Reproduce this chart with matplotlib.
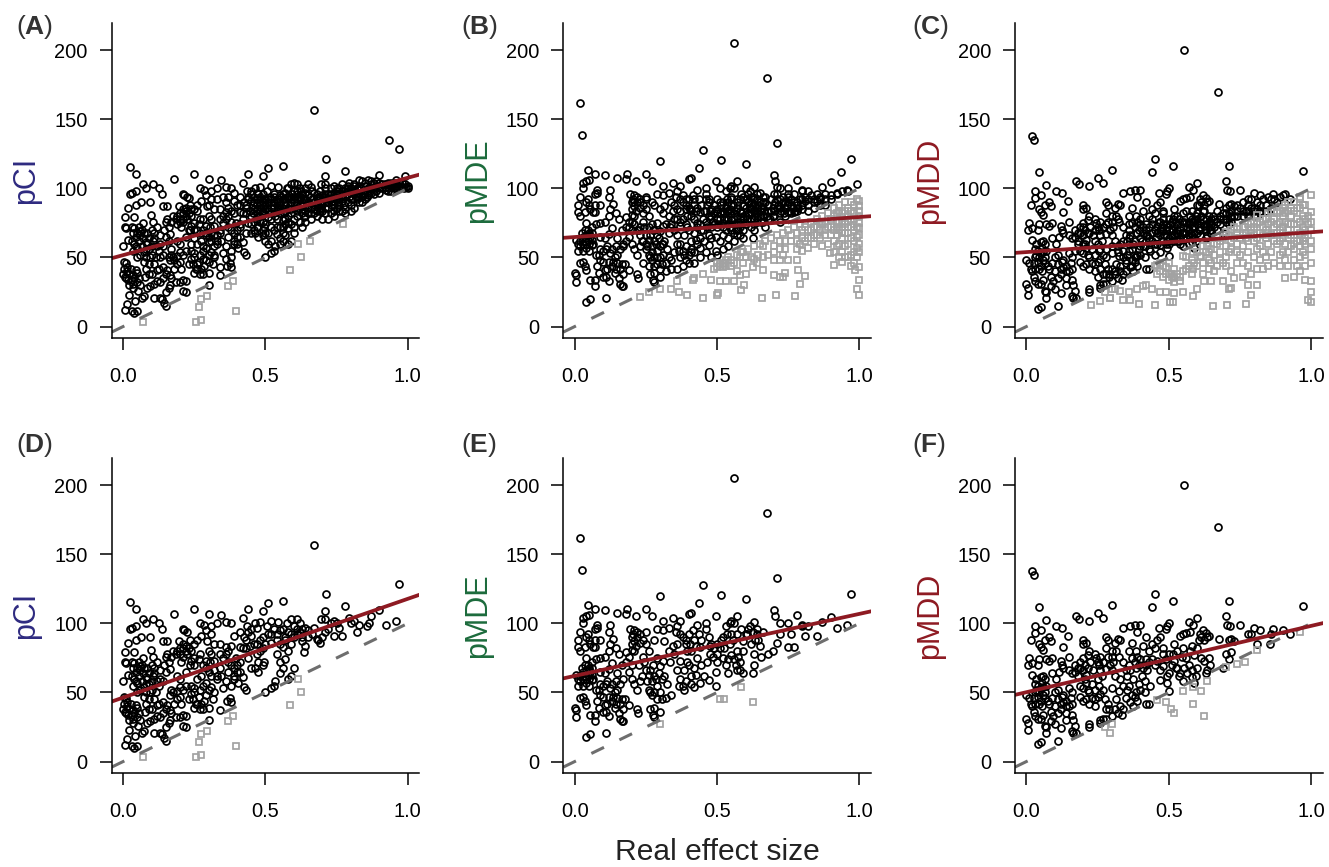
import matplotlib
matplotlib.use('Agg')
import matplotlib.pyplot as plt

plt.rcParams['font.family'] = 'Liberation Sans'
plt.rcParams['mathtext.fontset'] = 'custom'
plt.rcParams['mathtext.rm'] = 'Liberation Sans'
plt.rcParams['mathtext.bf'] = 'Liberation Sans:bold'

# points kept in the lower panels (D, E, F) as (effect, percent)
pci_black = [
 (.005,12),(.015,16),(.03,11),(.04,10),(.05,11),(.042,18.5),(.022,23),(.052,26),(.065,21),(.072,22),
 (0,38),(.003,42),(.006,36),(.01,46),(.012,40),(.018,34),(.022,38),(.028,42),(.032,34),(.036,37),
 (.04,35),(.044,41),(.05,39),(.056,35),(.078,36),(.004,47),(.015,43),(.035,31),(0,58),(.017,63),
 (.006,72),(.01,71),(.006,79),(.037,79),(.019,86),(.045,88),(.063,90),(.093,90),(.025,96),(.03,97),
 (.045,98),(.07,103),(.025,115.5),(.045,110.5),(.082,100),(.035,55),(.04,60),(.045,65),(.05,68),(.04,71),
 (.05,57),(.055,62),(.06,69),(.07,75),(.065,58),(.07,64),(.072,54),(.06,52),(.08,61),(.085,68),
 (.09,56),(.095,50),(.09,45),(.105,103.5),(.125,100),(.135,96),(.097,81),(.105,76),(.12,72),(.14,87),
 (.155,87),(.15,76),(.155,78),(.175,80),(.18,106.5),(.11,64),(.13,66),(.15,65),(.165,67),(.12,58),
 (.10,52),(.125,55),(.11,45),(.12,41),(.125,42),(.14,43),(.155,41),(.165,37),(.17,35),(.185,32),
 (.2,32),(.12,33),(.11,31),(.095,29),(.085,28),(.15,25),(.16,28),(.165,30),(.11,21),(.13,21),
 (.135,20),(.15,15),(.145,17),(.21,34),(.22,33),(.22,25),(.205,42),(.19,51),(.2,47),(.21,52),
 (.19,62),(.205,72),(.2,60),(.22,65),(.21,76),(.2,82),(.21,85),(.195,87),(.22,80),(.225,78),
 (.21,96),(.215,95),(.225,94),(.235,88),(.25,110.5),(.27,100),(.285,99),(.30,107),(.31,98),(.33,100),
 (.345,106),(.36,101),(.38,100),(.29,95),(.275,91),(.31,92),(.295,87),(.32,85),(.34,85),(.36,83),
 (.24,73),(.25,70),(.265,74),(.29,73),(.305,72),(.32,73),(.3,80),(.31,78),(.34,78),(.37,80),
 (.26,60),(.275,62),(.29,57),(.31,54),(.33,60),(.345,62),(.36,58),(.37,65),(.39,68),(.4,70),
 (.24,49),(.245,45),(.255,42),(.265,47),(.275,42),(.285,44),(.25,39),(.28,38),(.3,39),(.315,45),
 (.34,37),(.365,44),(.375,46),(.38,43),(.3,30),(.21,26),(.25,53),(.27,52),(.35,53),(.38,55),
 (.39,60),(.405,57),(.42,61),(.425,54),(.43,52),(.41,65),(.395,75),(.38,84),(.39,91),(.41,94),
 (.425,90),(.44,110.5),(.42,104),(.435,98),(.45,91),(.445,84),(.43,82),(.41,83),(.44,75),(.45,68),
 (.465,68),(.475,72),(.475,64.5),(.49,70),(.495,72),(.48,80),(.47,85),(.49,90),(.47,97),(.465,100),
 (.48,101),(.49,109),(.51,115),(.56,116),(.52,102),(.545,101),(.505,98),(.52,92),(.54,88),(.55,95),
 (.575,100),(.59,103),(.61,103),(.6,98),(.62,100),(.64,97),(.65,95),(.61,92),(.63,90),(.59,85),
 (.58,80),(.56,83),(.54,78),(.55,72),(.56,68),(.57,74),(.55,64),(.5,50),(.52,53),(.53,55),
 (.535,58),(.58,60),(.59,62),(.6,68),(.635,79),(.64,84),(.63,87),(.67,157),(.67,97),(.68,89),
 (.69,86),(.7,90),(.71,94),(.695,103),(.71,103),(.71,109),(.713,121),(.73,100),(.74,102),(.74,91),
 (.76,97),(.77,91),(.78,112.5),(.795,104),(.8,100),(.82,94),(.83,99),(.855,98),(.865,100),(.87,105),
 (.9,109.5),(.925,99),(.96,101.5),(.97,128.5),(.665,92),(.72,96),(.75,100),(.81,102),(.685,88),(.57,90),
 (.03,62),(.035,68),(.03,72),(.045,58),(.055,72),(.06,66),(.065,70),(.075,68),(.08,56),(.085,60),
 (.09,64),(.05,50),(.08,50),(.1,58),(.105,62),(.11,68),(.1,70),(.115,50),(.13,60),(.14,58),
 (.145,70),(.16,72),(.17,76),(.185,78),(.19,80),(.2,78),(.21,82),(.22,84),(.23,82),(.24,80),
 (.25,85),(.26,88),(.235,70),(.25,75),(.27,78),(.28,70),(.29,68),(.3,65),(.31,62),(.32,66),
 (.33,62),(.34,68),(.35,75),(.36,78),(.37,72),(.38,70),(.39,62),(.4,65),(.41,72),(.42,82),
 (.43,88),(.44,94),(.45,96),(.46,85),(.47,78),(.48,88),(.49,82),(.5,85),(.51,92),(.52,86),
 (.53,96),(.54,92),(.55,85),(.56,96),(.57,88),(.58,94),(.59,92),(.6,90),(.61,96),(.62,94),
 (.63,96),(.65,90),(.26,42),(.27,38),(.28,55),(.29,48),(.3,52),(.32,50),(.24,55),(.25,50),
 (.23,45),(.22,55),(.2,54),(.19,45),(.18,42),(.175,50),(.17,52),(.165,48),(.15,38),(.14,35),
 (.13,32),(.1,38),(.09,38),(.08,42),(.075,47),(.06,30),(.05,32),(.035,28),(.02,30),(.01,35),
]
mde_black = [
 (.02,162),(.025,138.5),(.56,205),(.675,180),(.71,132.5),(.45,127.5),(.97,121.5),(.3,120),(.515,120.5),(.6,118),
 (.435,114.5),(.045,113),(.07,110.5),(.105,109.5),(.185,110.5),(.25,110.5),(.15,107.5),(.18,107),(.05,106),(.03,104),
 (.04,105),(.03,100),(.215,105),(.27,105),(.4,107),(.41,107.5),(.495,105),(.57,105.5),(.7,110),(.705,105),
 (.72,100),(.78,106),(.9,104.5),(.87,101),(.75,100.5),(.955,99),(.92,97),(.85,91),(.81,91),(.8,99),
 (.01,83),(.012,88),(.018,94),(.02,80),(.035,83),(.04,90),(.045,92),(.05,88),(.055,85),(.065,83),
 (.07,88),(.07,96),(.08,97),(.08,99),(.07,83),(.09,88),(.105,76),(.12,94),(.125,85),(.125,99),
 (.135,89),(.12,80),(.145,82),(.13,71),(.09,75),(.075,74),(.06,72),(.04,75),(.045,70),(.05,68),
 (.03,65),(.035,62),(.04,60),(.05,66),(.06,63),(.065,60),(.005,63),(.01,60),(.02,58),(.012,55),
 (.03,55),(.05,55),(.06,59),(.09,65),(.105,64),(.12,67),(.15,64),(.11,56),(.125,53),(.14,50),
 (.16,56),(.09,56),(.075,52),(.08,44),(.1,47),(.12,47),(.135,47),(.165,45),(.175,45),(.19,41),
 (.0,39),(.004,37),(.005,32),(.02,46),(.03,47),(.035,44),(.04,41),(.055,34),(.07,34),(.07,29),
 (.085,39),(.105,41),(.11,36),(.12,33),(.14,39),(.155,35),(.16,31),(.165,29),(.17,29),(.16,42),
 (.04,18),(.055,20),(.11,20.5),(.155,78),(.165,70),(.18,79),(.2,81),(.195,96),(.21,95),(.22,94),
 (.21,87),(.2,85),(.23,86),(.25,85),(.26,80),(.24,76),(.2,70),(.19,65),(.2,60),(.21,56),
 (.22,52),(.23,58),(.25,66),(.26,63),(.27,58),(.28,62),(.29,55),(.26,52),(.265,50),(.27,48),
 (.22,38),(.222,35),(.265,38),(.28,39),(.275,34),(.28,32),(.3,36),(.305,45),(.32,46),(.34,48),
 (.3,69),(.31,73),(.29,75),(.28,88),(.29,96),(.31,95),(.315,87),(.33,97),(.345,104),(.31,102),
 (.36,98),(.37,102),(.33,80),(.345,84),(.36,85),(.38,90),(.4,92),(.415,95),(.42,88),(.43,99),
 (.39,85),(.395,80),(.41,80),(.37,73),(.36,66),(.37,60),(.38,55),(.39,58),(.4,70),(.41,62),
 (.42,68),(.425,63),(.42,54),(.385,52),(.365,55),(.44,57),(.47,59),(.465,72),(.46,100),(.46,96),
 (.47,90),(.48,85),(.475,78),(.49,82),(.5,72),(.495,65),(.495,55),(.5,85),(.51,82),(.52,90),
 (.52,75),(.53,98),(.535,92),(.545,100),(.55,102),(.56,100),(.57,92),(.545,85),(.55,77),(.56,74),
 (.57,80),(.54,64),(.58,66),(.59,64),(.625,64),(.63,70),(.58,72),(.59,87),(.585,96),(.61,96),
 (.63,101),(.64,96),(.62,85),(.63,78),(.635,88),(.65,84),(.66,94),(.68,78),(.695,80),(.71,86),
 (.72,92),(.75,83),(.76,92),(.77,83),(.8,98),(.82,98),(.64,92),(.6,92),(.53,70),(.44,83),
 (.02,62),(.025,68),(.035,70),(.04,66),(.045,63),(.055,65),(.06,68),(.03,60),(.05,60),(.04,57),
 (.085,52),(.1,55),(.115,58),(.13,56),(.145,58),(.15,52),(.17,60),(.18,72),(.19,76),(.21,80),
 (.215,84),(.22,90),(.23,92),(.24,88),(.25,94),(.2,90),(.205,92),(.225,70),(.235,62),(.245,72),
 (.255,58),(.265,66),(.275,70),(.285,60),(.295,64),(.305,60),(.315,62),(.325,56),(.335,72),(.35,78),
 (.355,94),(.37,92),(.39,88),(.405,85),(.425,84),(.435,92),(.445,88),(.385,66),(.395,72),(.41,56),
 (.43,75),(.445,70),(.455,62),(.475,84),(.485,76),(.5,78),(.515,88),(.525,82),(.54,74),(.55,92),
 (.555,88),(.575,76),(.59,80),(.605,92),(.615,98),(.625,94),(.645,88),(.655,76),(.565,70),(.57,66),
 (.115,42),(.13,44),(.145,42),(.09,48),(.1,36),(.17,38),(.15,46),(.28,50),(.29,45),(.3,50),
]
mdd_black = [
 (.018,138),(.025,135),(.555,200),(.673,170),(.71,116),(.45,121.5),(.97,112.5),(.3,113),(.515,116),(.44,112),
 (.045,112),(.07,102.5),(.25,107.5),(.27,104),(.175,105),(.185,103),(.22,102),(.105,98),(.125,97),(.03,98),
 (.03,93),(.05,95),(.015,88),(.045,85),(.05,83),(.06,81),(.065,88),(.08,90),(.085,87),(.145,91),
 (.13,83),(.01,75),(.005,70),(.02,71),(.04,70),(.045,74),(.07,74),(.08,73),(.09,75),(.12,73),
 (.125,70),(.15,76),(.13,68),(.115,65),(.09,64),(.105,60),(.02,63),(.035,60),(.05,61),(.06,62),
 (.065,60),(.03,56),(.04,55),(.05,53),(.06,54),(.065,50),(.0,48),(.01,46),(.015,42),(.03,50),
 (.04,47),(.05,44),(.06,48),(.065,46),(.08,42),(.09,46),(.1,50),(.11,52),(.125,47),(.14,44),
 (.15,53),(.155,46),(.16,42),(.085,36),(.095,33),(.1,40),(.11,35),(.12,38),(.13,43),(.14,35),
 (.0,31),(.005,28),(.005,23),(.025,36),(.03,33),(.04,31),(.05,31),(.06,34),(.065,26),(.07,25),
 (.07,21),(.085,29),(.1,27),(.12,24),(.14,30),(.16,34),(.165,30),(.17,26),(.16,22),(.165,21),
 (.175,21),(.04,13),(.05,14),(.11,15),(.15,66),(.16,64),(.17,65),(.18,68),(.19,72),(.2,75),
 (.205,70),(.215,77),(.2,66),(.21,63),(.2,88),(.21,86),(.2,85),(.22,80),(.24,78),(.25,72),
 (.26,76),(.28,90),(.285,88),(.28,82),(.3,80),(.3,76),(.31,86),(.32,89),(.33,88),(.36,80),
 (.37,86),(.365,98),(.34,97),(.38,99),(.4,99),(.39,94),(.42,90),(.44,85),(.385,80),(.41,84),
 (.43,80),(.45,82),(.46,88),(.47,90),(.465,97),(.49,96),(.495,98),(.5,100),(.19,55),(.2,53),
 (.21,57),(.22,50),(.23,56),(.24,52),(.25,60),(.26,66),(.28,67),(.3,66),(.31,62),(.33,60),
 (.35,66),(.36,70),(.37,75),(.38,72),(.39,76),(.4,74),(.41,68),(.42,74),(.43,72),(.435,55),
 (.19,47),(.2,44),(.22,42),(.23,46),(.24,40),(.25,47),(.26,49),(.275,45),(.285,42),(.29,38),
 (.3,53),(.315,45),(.325,51),(.34,55),(.36,55),(.37,48),(.38,47),(.39,44),(.4,52),(.415,50),
 (.42,42),(.43,42),(.365,43),(.375,40),(.26,28),(.22,27),(.22,25),(.26,30),(.27,31),(.28,31),
 (.3,33),(.32,35),(.335,34),(.34,38),(.46,73),(.47,66),(.48,78),(.47,59),(.495,62),(.495,57),
 (.5,51),(.5,64),(.51,70),(.52,73),(.53,80),(.55,82),(.54,91),(.55,92),(.56,93),(.575,94),
 (.57,101),(.585,99),(.6,104),(.61,92),(.62,95),(.625,88),(.63,93),(.64,91),(.675,89),(.59,77),
 (.58,84),(.6,82),(.56,75),(.57,70),(.58,66),(.59,57),(.55,58),(.58,61),(.6,68),(.615,75),
 (.625,73),(.64,75),(.645,70),(.635,66),(.63,64),(.7,105),(.705,99),(.715,98),(.72,79),(.7,78),
 (.71,74),(.71,88),(.72,89),(.73,87),(.75,99),(.78,92),(.8,97),(.79,92),(.82,95),(.81,85),
 (.855,85),(.865,96),(.86,92),(.9,95),(.925,92),(.53,68),(.54,64),(.52,85),(.48,69),(.69,68),
 (.035,52),(.045,50),(.055,57),(.025,46),(.045,42),(.055,40),(.07,55),(.075,44),(.02,40),(.03,42),
 (.11,45),(.12,42),(.13,48),(.14,40),(.15,40),(.16,50),(.17,70),(.18,62),(.19,68),(.205,60),
 (.215,68),(.225,72),(.235,66),(.245,75),(.255,70),(.265,62),(.27,72),(.285,76),(.295,70),(.305,72),
 (.315,80),(.325,76),(.34,72),(.355,62),(.365,66),(.375,60),(.385,68),(.395,70),(.405,62),(.415,58),
 (.425,66),(.44,74),(.45,70),(.385,50),(.395,56),(.35,46),(.355,52),(.33,40),(.31,38),(.28,38),
 (.27,52),(.255,55),(.24,45),(.21,45),(.215,52),(.48,82),(.49,74),(.5,78),(.515,78),(.525,68),
 (.535,62),(.545,76),(.555,68),(.565,64),(.575,80),(.595,62),(.605,88),(.615,90),(.635,90),(.42,70),
]
pci_gray = [(.07,3),(.255,3.5),(.275,5),(.268,14),(.275,20),(.295,22),(.37,29),(.385,33),(.395,11),(.585,41),(.625,50),(.615,60)]
mde_gray = [(.3,27.5),(.51,45),(.525,45.5),(.585,54),(.625,43)]
mdd_gray = [(.276,25),(.3,27),(.294,21),(.49,43),(.508,38),(.52,35),(.55,51),(.585,54),(.585,42),(.613,51),
            (.624,33),(.633,58.6),(.7,68.8),(.74,70.5),(.768,72),(.81,81),(.96,94),(.458,44.6)]

# extra points only in the upper panels (A, B, C)
pci_black_extra = [
 (.935,135),(.99,109),(.96,106),(.98,104),(.99,103),(1,102),(1,100),(.995,101),(.985,100),(.975,102),
 (.95,104),(.94,102),(.93,104),(.92,101),(.91,100),(.9,97),(.895,102),(.89,105),(.88,101),(.87,103),
 (.86,106),(.85,102),(.84,105),(.83,106),(.82,100),(.81,103),(.8,98),(.79,96),(.78,100),(.77,103),
 (.76,100),(.75,95),(.74,97),(.73,93),(.72,90),(.71,96),(.7,91),(.69,98),(.68,93),(.66,101),
 (.65,103),(.64,100),(.63,95),(.62,92),(.61,98),(.6,104),(.59,94),(.58,100),(.57,97),(.56,92),
 (.86,95),(.85,92),(.84,90),(.83,97),(.82,92),(.81,86),(.8,88),(.79,90),(.78,85),(.77,84),
 (.76,88),(.75,86),(.74,84),(.73,82),(.72,86),(.71,82),(.7,78),(.69,84),(.68,80),(.67,85),
 (.66,78),(.65,82),(.64,76),(.63,72),(.61,84),(.6,78),(.59,74),(.58,71),(.57,84),(.56,77),
 (.55,88),(.54,91),(.53,86),(.52,82),(.51,79),(.5,88),(.49,84),(.48,90),(.47,82),(.46,94),
 (.455,88),(.45,80),(.46,76),(.47,72),(.48,76),(.49,66),(.5,74),(.51,68),(.52,62),(.53,70),
 (.54,67),(.55,60),(.56,62),(.57,66),(.5,62),(.51,60),(.49,76),(.47,79),(.46,70),(.45,74),
 (.96,103),(.97,100),(.95,100),(.94,98),(.93,100),(.9,104),(.88,96),(.87,97),(.85,98),(.83,90),
 (.81,96),(.79,100),(.77,95),(.75,92),(.73,96),(.71,100),(.69,93),(.67,90),(.65,90),(.63,82),
 (.61,88),(.59,90),(.57,78),(.55,82),(.53,94),(.51,90),(.49,96),(.47,88),(.45,98),(.44,92),
 (.43,86),(.42,78),(.41,74),(.4,88),(.39,82),(.38,76),(.37,86),(.36,90),(.35,80),(.34,70),
 (.33,66),(.32,58),(.31,68),(.3,61),(.29,66),(.28,58),(.27,68),(.26,70),(.25,64),(.24,60),
 (.23,70),(.22,86),(.21,78),(.2,76),(.19,74),(.24,85),(.23,93),(.26,84),(.28,78),(.3,88),
 (.33,92),(.35,94),(.37,94),(.39,97),(.41,88),(.43,68),(.4,60),(.38,50),(.36,49),(.34,43),
 (.32,52),(.3,47),(.28,49),(.26,45),(.16,50),(.17,56),(.18,48),(.14,52),(.13,50),(.16,62),
 (.98,101),(.97,104),(.96,100),(.95,103),(.94,104),(.93,98),(.92,103),(.91,103),(.9,100),(.89,98),
 (.88,104),(.87,100),(.86,100),(.85,104),(.84,94),(.83,102),(.82,96),(.81,99),(.8,92),(.79,102),
 (.78,94),(.77,98),(.76,92),(.75,98),(.74,88),(.73,90),(.72,92),(.71,86),(.7,95),(.69,90),
 (.68,96),(.67,82),(.66,86),(.65,86),(.64,92),(.63,85),(.62,88),(.61,80),(.6,86),(.59,82),
 (.58,86),(.57,92),(.56,86),(.55,90),(.54,84),(.53,90),(.52,78),(.51,84),(.5,92),(.49,88),
 (.48,94),(.47,92),(.46,90),(.455,82),(.5,68),(.52,72),(.54,72),(.56,72),(.58,76),(.6,72),
 (.62,76),(.64,80),(.66,82),(.68,84),(.7,84),(.72,78),(.74,80),(.76,84),(.78,82),(.8,84),
 (.475,96),(.485,86),(.495,92),(.505,86),(.515,94),(.525,88),(.535,80),(.545,86),(.555,94),(.565,82),
 (.575,94),(.585,88),(.595,96),(.605,94),(.615,86),(.625,98),(.635,92),(.645,88),(.655,94),(.665,98),
 (.675,88),(.685,94),(.695,88),(.705,92),(.715,90),(.725,95),(.735,88),(.745,94),(.755,90),(.765,94),
 (.775,88),(.785,98),(.795,94),(.805,92),(.815,98),(.825,94),(.835,100),(.845,96),(.855,94),(.865,97),
]
mde_black_extra = [
 (.88,88),(.86,92),(.84,90),(.82,88),(.8,85),(.78,90),(.76,87),(.74,86),(.72,82),(.7,88),
 (.9,95),(.88,96),(.85,96),(.83,95),(.81,94),(.79,92),(.77,96),(.75,94),(.73,90),(.71,92),
 (.69,84),(.67,90),(.66,86),(.65,80),(.64,76),(.63,74),(.62,78),(.61,82),(.6,74),(.59,78),
 (.58,84),(.57,86),(.56,82),(.55,88),(.54,84),(.53,78),(.52,84),(.51,78),(.5,78),(.49,74),
 (.48,72),(.47,80),(.46,84),(.45,78),(.44,74),(.43,72),(.42,78),(.41,84),(.4,86),(.39,74),
 (.38,78),(.37,84),(.36,78),(.35,70),(.34,74),(.33,68),(.32,74),(.31,60),(.3,58),(.29,66),
 (.28,70),(.27,74),(.26,72),(.25,56),(.24,62),(.23,66),(.22,70),(.21,74),(.2,76),(.19,72),
 (.18,62),(.17,58),(.24,46),(.26,44),(.28,44),(.3,42),(.32,40),(.34,42),(.36,42),(.38,44),
 (.4,46),(.42,46),(.44,50),(.46,54),(.48,50),(.5,52),(.52,56),(.54,58),(.56,62),(.58,78),
 (.6,86),(.62,90),(.64,86),(.66,80),(.68,84),(.7,80),(.72,76),(.74,80),(.76,82),(.78,84),
 (.8,92),(.82,84),(.84,86),(.86,88),(.88,92),(.9,92),(.92,96),(.94,98),(.96,98),(.99,103),
 (.935,112),(.71,101),(.62,72),(.56,68),(.52,66),(.48,64),(.44,64),(.4,52),(.36,60),(.3,85),
 (.34,90),(.38,95),(.42,92),(.46,92),(.5,92),(.54,90),(.58,92),(.62,94),(.66,90),(.7,96),
 (.25,92),(.23,90),(.21,90),(.24,82),(.27,90),(.31,82),(.35,88),(.39,92),(.43,86),(.47,66),
 (.51,62),(.55,70),(.59,70),(.63,84),(.67,72),(.51,100),(.55,94),(.6,100),(.65,97),(.75,96),
 (.45,70),(.46,76),(.48,80),(.5,82),(.52,72),(.54,78),(.56,78),(.58,74),(.6,80),(.62,82),
 (.64,82),(.66,76),(.68,88),(.7,84),(.72,86),(.74,90),(.76,88),(.78,88),(.8,88),(.82,92),
 (.84,92),(.86,94),(.47,92),(.49,88),(.51,90),(.53,86),(.55,84),(.57,90),(.59,94),(.61,90),
 (.63,92),(.65,90),(.67,94),(.69,92),(.71,96),(.73,94),(.75,90),(.77,90),(.43,60),(.41,54),
 (.39,48),(.37,50),(.35,54),(.33,50),(.31,52),(.29,50),(.27,54),(.25,60),(.23,72),(.37,76),
 (.455,84),(.465,88),(.495,84),(.505,74),(.525,78),(.535,84),(.545,72),(.565,84),(.575,70),(.585,82),
 (.595,88),(.605,78),(.615,86),(.625,88),(.635,80),(.645,80),(.655,86),(.665,84),(.675,80),(.685,78),
 (.695,86),(.705,90),(.715,88),(.725,84),(.735,82),(.745,88),(.755,84),(.765,86),(.775,84),(.785,86),
]
mdd_black_extra = [
 (.88,90),(.86,86),(.84,88),(.82,84),(.8,80),(.78,88),(.76,90),(.74,84),(.72,80),(.7,86),
 (.68,80),(.67,76),(.66,72),(.65,68),(.64,80),(.62,84),(.6,78),(.58,72),(.56,68),(.54,60),
 (.52,66),(.5,60),(.48,74),(.46,68),(.44,68),(.42,62),(.4,58),(.38,62),(.36,60),(.34,50),
 (.32,54),(.3,42),(.28,50),(.26,56),(.24,62),(.22,68),(.2,72),(.18,60),(.17,55),(.35,40),
 (.37,56),(.39,68),(.41,72),(.43,64),(.45,60),(.47,76),(.49,70),(.51,76),(.53,74),(.55,72),
 (.57,76),(.59,72),(.61,70),(.63,78),(.65,74),(.67,84),(.69,78),(.71,82),(.73,80),(.75,86),
 (.77,84),(.79,86),(.81,90),(.83,92),(.85,94),(.87,92),(.89,94),(.91,96),(.29,36),(.31,40),
 (.33,44),(.35,48),(.37,44),(.39,52),(.41,58),(.43,56),(.45,52),(.47,54),(.49,66),(.51,62),
 (.53,62),(.55,68),(.57,66),(.59,64),(.61,66),(.63,70),(.65,78),(.6,88),(.56,84),(.52,80),
 (.48,84),(.44,78),(.4,78),(.36,74),(.32,78),(.28,74),(.24,70),(.2,60),(.27,38),(.25,36),
 (.46,60),(.48,62),(.5,70),(.52,62),(.54,70),(.56,64),(.58,78),(.6,74),(.62,78),(.64,72),
 (.66,78),(.68,74),(.7,82),(.72,84),(.74,88),(.76,84),(.78,84),(.8,86),(.82,88),(.84,84),
 (.47,70),(.49,60),(.51,66),(.53,70),(.55,64),(.57,60),(.59,68),(.61,72),(.63,74),(.65,70),
 (.38,50),(.4,64),(.42,66),(.44,62),(.36,64),(.34,62),(.32,58),(.3,58),(.28,56),(.26,42),
 (.455,65),(.465,76),(.475,72),(.485,66),(.495,72),(.505,74),(.515,70),(.525,76),(.535,78),(.545,68),
 (.555,76),(.565,72),(.575,74),(.585,76),(.595,80),(.605,70),(.615,80),(.625,84),(.645,76),(.655,80),
 (.67,70),(.68,78),(.69,82),(.7,76),(.72,76),(.74,80),(.76,80),(.78,80),(.8,84),(.82,82),
]
pci_gray_extra = [(.658,62),(.772,74.5)]
mde_gray_extra = [
 (.23,21.7),(.26,25),(.34,27),(.365,25),(.395,23),(.45,21),(.505,24),(.5,23),(.585,26.5),(.658,21),
 (.707,22.5),(.773,22),(.79,31),(.81,36.7),(1,23),(.99,27),(1,34),(1,43),(.985,41),(.912,44.6),
 (.895,53),(.94,47),(.36,33),(.42,35),(.415,34),(.45,38),(.48,34),(.51,33),(.53,33),(.56,33),
 (.595,30),(.6,38),(.58,37),(.66,41),(.7,37),(.72,36),(.73,36),(.74,39),(.785,41),(.72,48),
 (.75,48),(.78,48),(.8,55),(.82,57),(.84,60),(.86,64),(.52,43),(.53,48),(.5,46),(.55,48),
 (.57,52),(.59,46),(.6,50),(.63,49),(.645,52),(.66,58),(.7,48),(.73,52),(.7,58),(.72,62),
 (.74,56),(.76,62),(.78,56),(.78,68),(.8,64),(.82,70),(.84,72),(.86,70),(.88,66),(.88,76),
 (.9,72),(.92,58),(.92,66),(.92,76),(.94,54),(.94,64),(.94,72),(.94,82),(.96,50),(.96,60),
 (.96,68),(.96,76),(.96,86),(.98,46),(.98,54),(.98,62),(.98,70),(.98,78),(.98,88),(1,54),
 (1,60),(1,66),(1,71),(1,75),(1,80),(1,84),(1,87),(1,91),(.99,57),(.99,65),
 (.97,90),(.95,90),(.93,88),(.91,86),(.89,82),(.87,80),(.85,78),(.83,76),(.81,72),(.79,74),
 (.77,72),(.75,70),(.73,68),(.71,66),(.69,64),(.67,62),(.65,60),(.63,58),(.61,56),(.59,54),
 (.9,78),(.92,82),(.94,76),(.96,80),(.98,82),(.99,72),(.99,92),(.97,72),(.95,68),(.93,70),
 (.91,62),(.89,60),(.87,58),(.85,66),(.83,64),(.81,62),(.79,60),(.93,60),(.95,58),(.97,64),
 (.97,52),(.95,50),(.99,50),(.93,50),(.91,54),(.97,44),
 (.89,72),(.87,74),(.85,72),(.83,70),(.91,70),(.93,76),(.95,74),(.97,78),(.91,80),(.93,84),
 (.95,84),(.97,84),(.96,72),(.94,68),(.92,72),(.9,66),(.88,70),(.86,76),(.84,66),(.82,64),
 (.8,70),(.78,62),(.76,66),(.74,62),(.72,56),(.7,54),(.68,52),(.66,50),(.64,46),(.62,50),
 (.52,46),(.51,44),(.5,43),(.49,42),(.53,44),(.54,50),(.55,44),(.56,46),(.57,40),(.58,50),
]
mdd_gray_extra = [
 (.228,15.5),(.26,18.5),(.295,21),(.34,19.5),(.365,19),(.395,16.5),(.45,15.5),(.505,18),(.515,18),(.655,15),
 (.705,15.5),(.77,16),(1,18),(.99,19),(1,25),(1,33),(.98,34),(.91,35),(.89,44),(.94,36),
 (.31,27),(.33,26),(.36,25),(.39,27),(.41,29),(.42,30),(.44,27),(.47,25),(.49,25),(.52,24),
 (.55,25),(.585,22),(.6,27),(.65,33),(.69,33),(.71,27),(.72,28),(.73,35),(.76,36),(.78,30),
 (.79,23),(.81,30),(.45,44),(.47,40),(.48,44),(.5,38),(.5,46),(.52,42),(.52,36),(.54,33),
 (.56,42),(.58,38),(.56,50),(.58,48),(.6,44),(.62,38),(.64,42),(.66,40),(.68,48),(.7,44),
 (.72,40),(.74,46),(.76,46),(.78,44),(.8,50),(.82,48),(.84,50),(.86,54),(.88,60),(.6,54),
 (.62,58),(.64,54),(.66,60),(.68,62),(.7,58),(.72,56),(.74,60),(.76,58),(.78,62),(.8,62),
 (.82,58),(.84,64),(.86,66),(.88,68),(.9,54),(.9,64),(.9,72),(.9,80),(.92,44),(.92,54),
 (.92,64),(.92,74),(.92,84),(.94,48),(.94,56),(.94,66),(.94,74),(.94,84),(.96,40),(.96,50),
 (.96,58),(.96,68),(.96,76),(.96,86),(.98,44),(.98,52),(.98,60),(.98,70),(.98,78),(.98,88),
 (1,46),(1,56),(1,62),(1,70),(1,76),(1,83),(1,95),(.99,66),(.99,74),(.99,80),
 (.7,66),(.72,70),(.74,68),(.76,72),(.78,74),(.8,72),(.82,76),(.84,78),(.86,76),(.88,82),
 (.9,86),(.92,90),(.94,90),(.96,92),(.86,84),(.84,70),(.82,68),(.8,66),(.78,54),(.76,66),
 (.74,54),(.72,62),(.7,50),(.68,54),(.66,52),(.64,48),(.62,46),(.88,74),(.9,68),(.92,70),
 (.94,60),(.96,62),(.98,64),(.97,72),(.95,70),(.93,80),(.91,76),(.89,70),(.87,72),(.85,60),
 (.83,54),(.81,56),(.79,68),(.77,64),(.75,52),(.73,64),(.71,54),(.69,46),(.67,44),(.65,46),
 (.97,54),(.95,44),(.93,58),(.91,48),(.89,52),(.87,46),(.85,44),(.83,42),(.81,42),(.79,38),
 (.95,78),(.93,74),(.91,82),(.89,76),(.87,78),(.85,74),(.83,72),(.81,74),(.79,70),(.77,68),
 (.75,64),(.73,72),(.71,66),(.69,64),(.67,60),(.65,56),(.63,54),(.61,50),(.59,46),(.57,44),
 (.55,40),(.53,38),(.51,36),(.49,38),(.47,46),(.46,38),(.48,36),(.5,34),(.52,32),(.54,36),
 (.97,62),(.97,80),(.95,62),(.93,66),(.91,60),(.89,62),(.87,62),(.85,68),(.83,66),(.81,64),
 (.97,88),(.95,86),(.93,86),(.91,88),(.89,84),(.87,84),(.85,82),(.83,78),(.81,76),(.79,76),
]

panel_letters = ['A', 'B', 'C', 'D', 'E', 'F']
metric_names = ['pCI', 'pMDE', 'pMDD']
metric_colors = ['#2e2a80', '#1c6b3c', '#8e1a22']
xticks = [0, .5, 1]
yticks = [0, 50, 100, 150, 200]
# intercept and slope of the red lines
fit_top = [(51.7, 56), (64.8, 14.5), (53.9, 14.4)]
fit_bottom = [(46.3, 71.5), (62, 44.9), (50.2, 48)]

black_low = [pci_black, mde_black, mdd_black]
gray_low = [pci_gray, mde_gray, mdd_gray]
black_more = [pci_black_extra, mde_black_extra, mdd_black_extra]
gray_more = [pci_gray_extra, mde_gray_extra, mdd_gray_extra]

W, H = 1329, 867
fig = plt.figure(figsize=(W / 100, H / 100), dpi=100)
lefts = [111.7, 563.3, 1015]
tops = [23.3, 458.3]
letter_x = [16, 461, 912]
letter_y = [27, 445]


def draw(ax, black, gray, fit, name, color, line_end):
    ax.plot([p[0] for p in black], [p[1] for p in black], 'o', ms=5.0, mfc='none', mec='black', mew=1.25, clip_on=False)
    ax.plot([p[0] for p in gray], [p[1] for p in gray], 's', ms=5.0, mfc='none', mec='#a2a2a2', mew=1.25)
    ax.plot([-.04, line_end], [-4, line_end * 100], color='#6e6e6e', lw=2.2, dashes=(4.6, 5.6))
    ax.plot([-.04, 1.04], [fit[0] - .04 * fit[1], fit[0] + 1.04 * fit[1]], color='#8e1a22', lw=2.7)
    ax.set_xlim(-.04, 1.04)
    ax.set_ylim(-8.5, 219.5)
    ax.set_xticks(xticks)
    ax.set_xticklabels(['0.0', '0.5', '1.0'])
    ax.set_yticks(yticks)
    ax.tick_params(axis='y', length=8.8, width=1.1, pad=8.5, labelsize=14.4)
    ax.tick_params(axis='x', length=8.8, width=1.1, pad=12, labelsize=14.4)
    ax.spines[['top', 'right']].set_visible(False)
    ax.spines[['left', 'bottom']].set_linewidth(1.1)
    ax.patch.set_alpha(0)
    ax.text(-.277, .5, name, color=color, fontsize=22, rotation=90, ha='center', va='center', transform=ax.transAxes)


for row in range(2):
    for col in range(3):
        ax = fig.add_axes([lefts[col] / W, 1 - (tops[row] + 315) / H, 307.5 / W, 315 / H])
        if row == 0:
            black = black_low[col] + black_more[col]
            gray = gray_low[col] + gray_more[col]
            draw(ax, black, gray, fit_top[col], metric_names[col], metric_colors[col], 1.0)
        else:
            draw(ax, black_low[col], gray_low[col], fit_bottom[col], metric_names[col], metric_colors[col], 1.04)
        letter = panel_letters[row * 3 + col]
        fig.text(letter_x[col] / W, 1 - letter_y[row] / H, '($\\mathbf{' + letter + '}$)', fontsize=19,
                 color='#333333', ha='left', va='center')

fig.text(717 / W, 1 - 860.5 / H, 'Real effect size', fontsize=21.6, color='#222222', ha='center', va='baseline')
fig.savefig('out.png', dpi=100)
